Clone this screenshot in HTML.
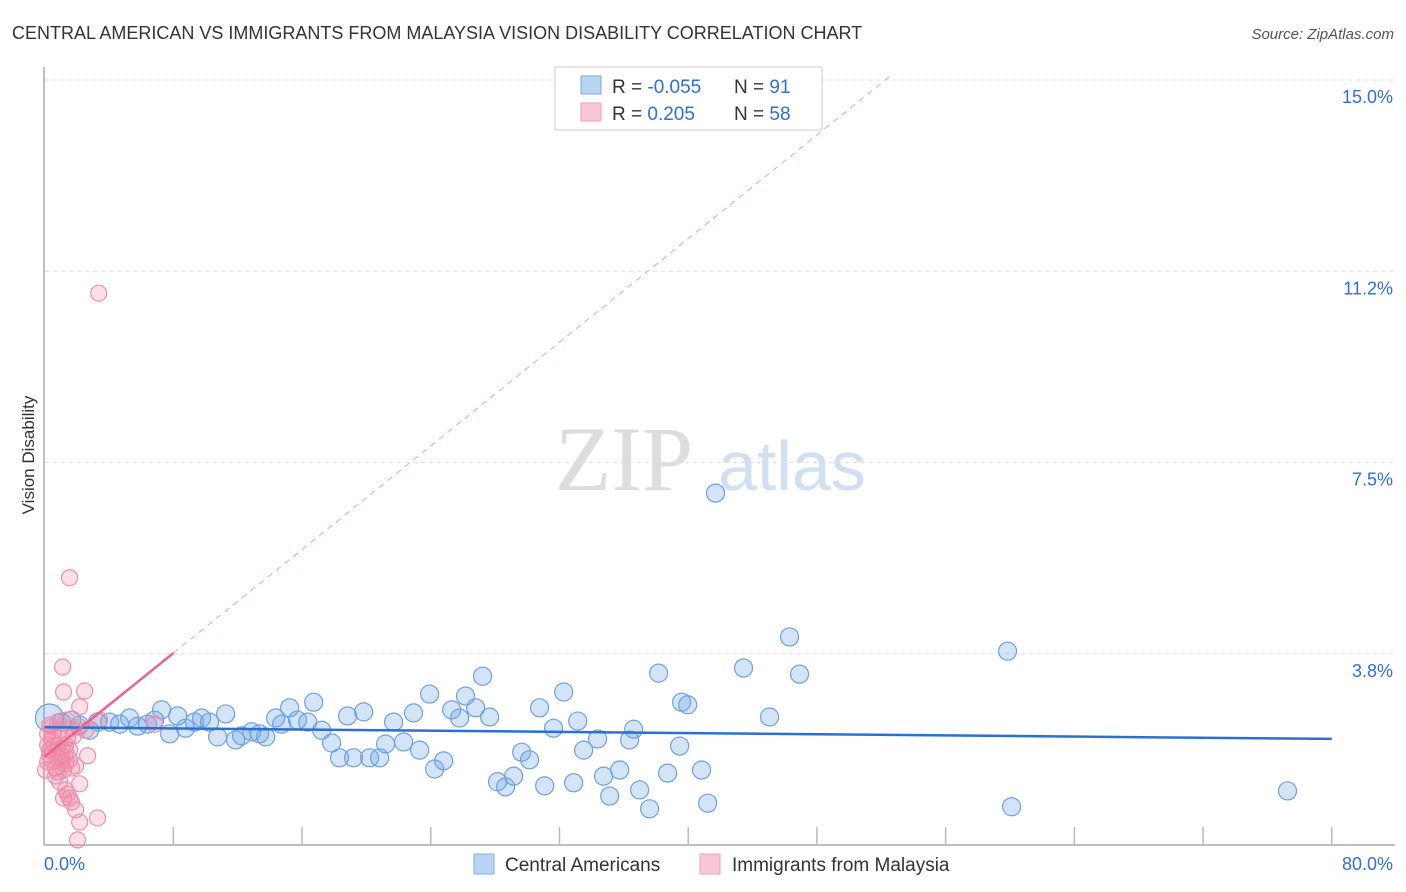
<!DOCTYPE html>
<html><head><meta charset="utf-8"><style>
body{margin:0;background:#fff;font-family:"Liberation Sans",sans-serif;}
#wrap{position:relative;width:1406px;height:892px;overflow:hidden}
</style></head><body><div id="wrap">
<svg id="svg" width="1406" height="892" xmlns="http://www.w3.org/2000/svg">
<text x="12" y="39" font-size="18" fill="#333">CENTRAL AMERICAN VS IMMIGRANTS FROM MALAYSIA VISION DISABILITY CORRELATION CHART</text>
<text x="1394" y="39" font-size="15" fill="#555" font-style="italic" text-anchor="end">Source: ZipAtlas.com</text>
<text x="34" y="455" font-size="17" fill="#333" text-anchor="middle" transform="rotate(-90 34 455)">Vision Disability</text>
<g><text x="555" y="490" font-size="92" fill="#ddd" font-family="Liberation Serif,serif">ZIP</text><text x="718" y="490" font-size="70" fill="#cfe0f3">atlas</text></g>
<g id="grid"></g><g id="axes"></g><g id="marks"></g>
<g>
<rect x="555" y="67" width="267" height="63" fill="#fff" stroke="#ccc"/>
<rect x="581" y="76" width="20" height="18" fill="#b9d3f3" stroke="#7fa8e0"/>
<rect x="581" y="103" width="20" height="18" fill="#f9c6d5" stroke="#eea0b8"/>
<text x="612" y="93" font-size="19" fill="#333">R = <tspan fill="#2f6fd6">-0.055</tspan></text>
<text x="734" y="93" font-size="19" fill="#333">N = <tspan fill="#2f6fd6"> 91</tspan></text>
<text x="612" y="120" font-size="19" fill="#333">R = <tspan fill="#2f6fd6">  0.205</tspan></text>
<text x="734" y="120" font-size="19" fill="#333">N = <tspan fill="#2f6fd6">58</tspan></text>
</g>
<g>
<rect x="474" y="854" width="20" height="20" fill="#b9d3f3" stroke="#7fa8e0"/>
<text x="505" y="871" font-size="19" fill="#333">Central Americans</text>
<rect x="700" y="854" width="20" height="20" fill="#f9c6d5" stroke="#eea0b8"/>
<text x="732" y="871" font-size="19" fill="#333">Immigrants from Malaysia</text>
</g>
</svg></div>
<script>
const yTicks=[3.75,7.5,11.25,15];
const yTickLabels=["3.8%","7.5%","11.2%","15.0%"];
const xTickVals=[0,8,16,24,32,40,48,56,64,72,80];
const blueX=[0.3,1.06,1.68,2.18,2.8,3.29,4.04,4.66,5.28,5.78,6.4,6.84,7.27,7.77,8.27,8.76,9.32,9.76,10.25,10.75,11.25,11.87,12.24,12.87,13.36,13.74,14.36,14.73,15.23,15.72,16.35,16.72,17.22,17.84,18.33,18.83,19.2,19.83,20.2,20.82,21.19,21.69,22.31,22.93,23.31,23.93,24.24,24.8,25.3,25.79,26.16,26.79,27.22,27.66,28.15,28.65,29.15,29.65,30.14,30.76,31.08,31.63,32.26,32.88,33.13,33.5,34.37,34.74,35.12,35.74,36.36,36.61,36.98,37.6,38.16,38.72,39.47,39.59,39.97,40.83,41.21,41.7,43.44,45.06,46.3,46.92,59.85,60.1,77.25];
const blueY=[2.49,2.41,2.45,2.35,2.25,2.41,2.41,2.37,2.49,2.33,2.37,2.45,2.65,2.18,2.53,2.29,2.41,2.49,2.41,2.12,2.57,2.06,2.14,2.22,2.18,2.12,2.49,2.37,2.69,2.45,2.41,2.8,2.25,2.0,1.71,2.53,1.71,2.61,1.71,1.71,1.98,2.41,2.02,2.59,1.86,2.96,1.49,1.65,2.65,2.49,2.92,2.69,3.31,2.51,1.24,1.14,1.35,1.82,1.67,2.69,1.16,2.29,3.0,1.22,2.43,1.86,2.08,1.35,0.96,1.47,2.06,2.27,1.08,0.71,3.37,1.41,1.94,2.8,2.75,1.47,0.82,6.9,3.47,2.51,4.08,3.35,3.8,0.75,1.06];
const pinkX=[3.36,1.55,1.12,1.18,2.49,2.18,0.31,0.44,0.81,1.31,0.56,1.06,1.55,0.19,0.68,1.93,2.67,1.43,0.93,1.68,0.19,0.44,0.81,1.18,1.68,0.93,2.18,1.31,1.55,1.68,1.18,1.43,1.93,2.18,3.29,2.05,0.93,0.62,0.31,1.06,1.31,0.56,0.81,3.42,6.84,1.37,2.18,0.44,0.19,0.68,1.06,1.55,1.8,0.06,0.81,1.31,0.31,2.55];
const pinkY=[10.82,5.24,3.49,3.0,3.02,2.71,2.35,2.06,1.94,1.96,1.82,1.75,1.67,1.63,1.51,1.55,1.75,2.1,2.25,2.29,2.18,1.67,1.43,1.47,1.51,1.24,1.2,1.08,0.92,0.84,0.92,1.0,0.69,0.45,0.53,0.1,1.71,1.96,1.86,1.63,1.82,2.14,2.41,2.45,2.37,2.45,2.31,2.31,1.96,1.35,1.9,1.86,2.14,1.47,1.67,1.59,1.76,2.25];
const blueTrend=[2.31,2.08];
const pinkTrend=[1.73,0.254];
const X=v=>44.6+v*16.09, Y=v=>845-v*51;
const NS="http://www.w3.org/2000/svg";
function mk(tag,attrs,parent){const e=document.createElementNS(NS,tag);for(const k in attrs)e.setAttribute(k,attrs[k]);document.getElementById(parent).appendChild(e);return e;}
yTicks.forEach((t,i)=>{
 const g=mk('line',{x1:45,x2:1395,y1:Y(t),y2:Y(t),stroke:'#ddd','stroke-dasharray':'4,4'},'grid');
 
 
 const l=mk('text',{x:1393,y:Y(t)+23,'font-size':18,fill:'#2f6fd6','text-anchor':'end'},'axes');
 l.textContent=yTickLabels[i];
 
 
});
const ya=mk('line',{x1:44,x2:44,y1:67,y2:845,stroke:'#aaa','stroke-width':1.5},'axes');


const xa=mk('line',{x1:44,x2:1395,y1:845,y2:845,stroke:'#aaa','stroke-width':1.5},'axes');


xTickVals.slice(1).forEach(t=>{
 const k=mk('line',{x1:X(t),x2:X(t),y1:827,y2:845,stroke:'#bbb','stroke-width':1.5},'axes');
 
 
});
const x0=mk('text',{x:44,y:870,'font-size':18,fill:'#2f6fd6'},'axes');x0.textContent='0.0%';


const x1=mk('text',{x:1393,y:870,'font-size':18,fill:'#2f6fd6','text-anchor':'end'},'axes');x1.textContent='80.0%';


blueX.forEach((v,i)=>{
 const c=mk('circle',{cx:X(v),cy:Y(blueY[i]),r:i===0?14:9,fill:'rgba(110,165,230,0.3)',stroke:'#6fa0de','stroke-width':1.2},'marks');
 
 
});
pinkX.forEach((v,i)=>{
 const c=mk('circle',{cx:X(v),cy:Y(pinkY[i]),r:8,fill:'rgba(240,130,160,0.25)',stroke:'#ee8fae','stroke-width':1.2},'marks');
 
 
});
const bt=mk('line',{x1:X(0),y1:Y(blueTrend[0]),x2:X(80),y2:Y(blueTrend[1]),stroke:'#2a6fd4','stroke-width':2.5},'marks');


const xe=(15.1-pinkTrend[0])/pinkTrend[1];
const pd=mk('line',{x1:X(8),y1:Y(pinkTrend[0]+8*pinkTrend[1]),x2:X(xe),y2:Y(15.1),stroke:'#e8a0b8','stroke-width':1,'stroke-dasharray':'6,5'},'marks');


const pt=mk('line',{x1:X(0),y1:Y(pinkTrend[0]),x2:X(8),y2:Y(pinkTrend[0]+8*pinkTrend[1]),stroke:'#e8648e','stroke-width':2.5},'marks');


</script></body></html>
